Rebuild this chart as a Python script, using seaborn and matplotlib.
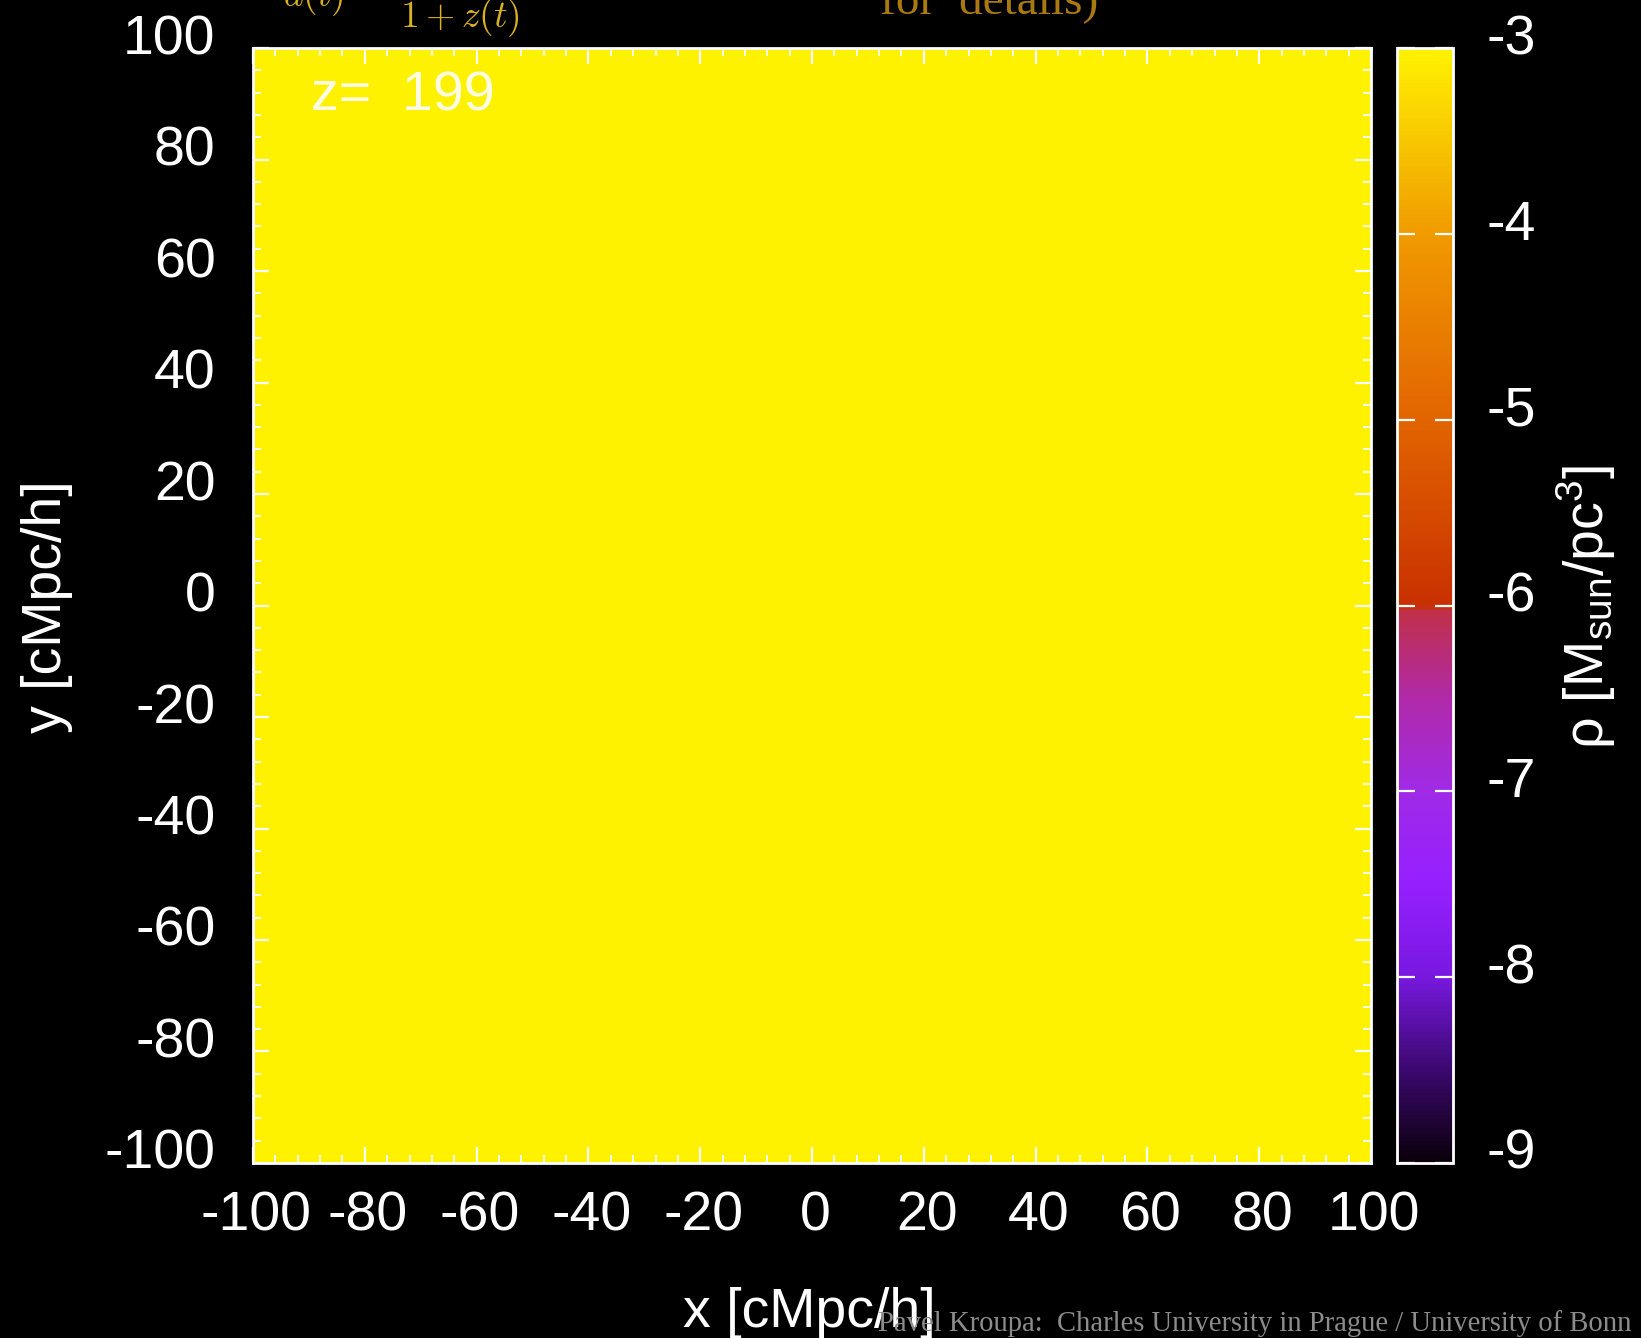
import numpy as np
import pandas as pd
import matplotlib
matplotlib.use("Agg")
import matplotlib.pyplot as plt
import seaborn as sns
from matplotlib.colors import LinearSegmentedColormap
from matplotlib.transforms import ScaledTranslation

# ---------------- data ----------------
x_min, x_max = -100, 100
y_min, y_max = -100, 100
cell_size = 20
x_cells = [-90, -70, -50, -30, -10, 10, 30, 50, 70, 90]
y_cells = [90, 70, 50, 30, 10, -10, -30, -50, -70, -90]
# log10 density [Msun/pc^3] at z = 199: uniform field
rho_rows = [[-3.0] * 10 for _ in range(10)]
x_ticks = [-100, -80, -60, -40, -20, 0, 20, 40, 60, 80, 100]
y_ticks = [-100, -80, -60, -40, -20, 0, 20, 40, 60, 80, 100]
minor_step = 4
cbar_ticks = [-9, -8, -7, -6, -5, -4, -3]
cbar_min, cbar_max = -9, -3
redshift_label = "z=  199"
credit = "Pavel Kroupa:  Charles University in Prague / University of Bonn"

# ---------------- style ----------------
sns.set_style("ticks")
plt.rcParams["font.family"] = ["Liberation Sans", "DejaVu Sans"]
plt.rcParams["mathtext.fontset"] = "custom"
plt.rcParams["mathtext.rm"] = "Liberation Sans"
plt.rcParams["mathtext.it"] = "Liberation Sans:italic"
plt.rcParams["savefig.facecolor"] = "black"
plt.rcParams["axes.axisbelow"] = False

stops = [
    (0.0, "#0a000a"),
    (1 / 12, "#3c0870"),
    (2 / 12, "#7818e0"),
    (3 / 12, "#9520ff"),
    (4 / 12, "#a02ae6"),
    (5 / 12, "#b02aa8"),
    (5.94 / 12, "#c03048"),
    (6 / 12, "#c83000"),
    (8 / 12, "#e26400"),
    (10 / 12, "#f09a00"),
    (1.0, "#fff200"),
]
cmap = LinearSegmentedColormap.from_list("dens", stops)

fig = plt.figure(figsize=(16.41, 13.38), dpi=100, facecolor="black")
ax = fig.add_axes([0.1542, 0.1308, 0.6813, 0.8333])
cax = fig.add_axes([0.8513, 0.1308, 0.0341, 0.8333])

df = pd.DataFrame(rho_rows, index=y_cells, columns=x_cells)
sns.heatmap(df, ax=ax, cbar_ax=cax, cmap=cmap, vmin=cbar_min, vmax=cbar_max,
            xticklabels=False, yticklabels=False)

def xpos(v):
    return (v - x_min) / cell_size

def ypos(v):
    return (y_max - v) / cell_size

ax.set_xticks([xpos(v) for v in x_ticks])
ax.set_xticklabels([str(v) for v in x_ticks])
ax.set_yticks([ypos(v) for v in y_ticks])
ax.set_yticklabels([str(v) for v in y_ticks])
ax.set_xticks([xpos(v) for v in range(x_min, x_max + 1, minor_step)], minor=True)
ax.set_yticks([ypos(v) for v in range(y_min, y_max + 1, minor_step)], minor=True)
ax.set_xlabel("")
ax.set_ylabel("")
ax.set_axisbelow(False)
cax.set_axisbelow(False)

for s in ax.spines.values():
    s.set_visible(True)
    s.set_color("white")
    s.set_linewidth(2)
    s.set_zorder(5)

ax.tick_params(which="both", direction="in", color="white", top=True, right=True,
               bottom=True, left=True, labelcolor="white", labelsize=40)
ax.tick_params(which="major", length=11.5, width=1.6)
ax.tick_params(which="minor", length=5.5, width=1.3)
ax.tick_params(axis="y", which="major", pad=27)
ax.tick_params(axis="x", which="major", pad=20)
ax.set_facecolor("black")

up = ScaledTranslation(0, 0.14, fig.dpi_scale_trans)
for lab in ax.get_yticklabels():
    lab.set_transform(lab.get_transform() + up)
right = ScaledTranslation(0.03, 0, fig.dpi_scale_trans)
for lab in ax.get_xticklabels():
    lab.set_transform(lab.get_transform() + right)

cb = ax.collections[0].colorbar
cb.set_ticks(cbar_ticks)
cb.set_ticklabels([str(v) for v in cbar_ticks])
cb.outline.set_visible(True)
cb.outline.set_edgecolor("white")
cb.outline.set_linewidth(2)
cax.tick_params(which="both", direction="in", color="white", left=True, right=True,
                labelleft=False, labelright=True, labelcolor="white", labelsize=40,
                length=13, width=1.6, pad=24)
cax.minorticks_off()
for lab in cax.get_yticklabels():
    lab.set_transform(lab.get_transform() + up)

# in-plot redshift label
ax.text(0.052, 0.944, redshift_label, transform=ax.transAxes, ha="left", va="baseline",
        color="#fffbe6", fontsize=40)

# axis labels
fig.text(47 / 1641, 1 - 607 / 1338, "y [cMpc/h]", rotation=90, ha="center", va="center",
         color="white", fontsize=40)
fig.text(809 / 1641, 1 - 1327 / 1338, "x [cMpc/h]", ha="center", va="baseline",
         color="white", fontsize=40)
fig.text(1586 / 1641, 1 - 607 / 1338, r"ρ [M$_{\mathrm{sun}}$/pc$^{3}$]", rotation=90,
         ha="center", va="center", color="white", fontsize=40)

# clipped texts at the top
fig.text(283 / 1641, 1 - 6 / 1338, r"$a(t)$", ha="left", va="baseline", color="#d8b020",
         fontsize=27, math_fontfamily="cm")
fig.text(400 / 1641, 1 - 27 / 1338, r"$1+z(t)$", ha="left", va="baseline", color="#d8b020",
         fontsize=27, math_fontfamily="cm")
fig.text(880 / 1641, 1 - 13 / 1338, "for  details)", ha="left", va="baseline",
         color="#a87a10", fontsize=34, family=["Liberation Serif", "DejaVu Serif"])

# credit
fig.text(1632 / 1641, 1 - 1331 / 1338, credit, ha="right", va="baseline", color="#8c8c8c",
         fontsize=20.6, family=["Liberation Serif", "DejaVu Serif"])

fig.savefig("out.png", dpi=100, facecolor="black")
